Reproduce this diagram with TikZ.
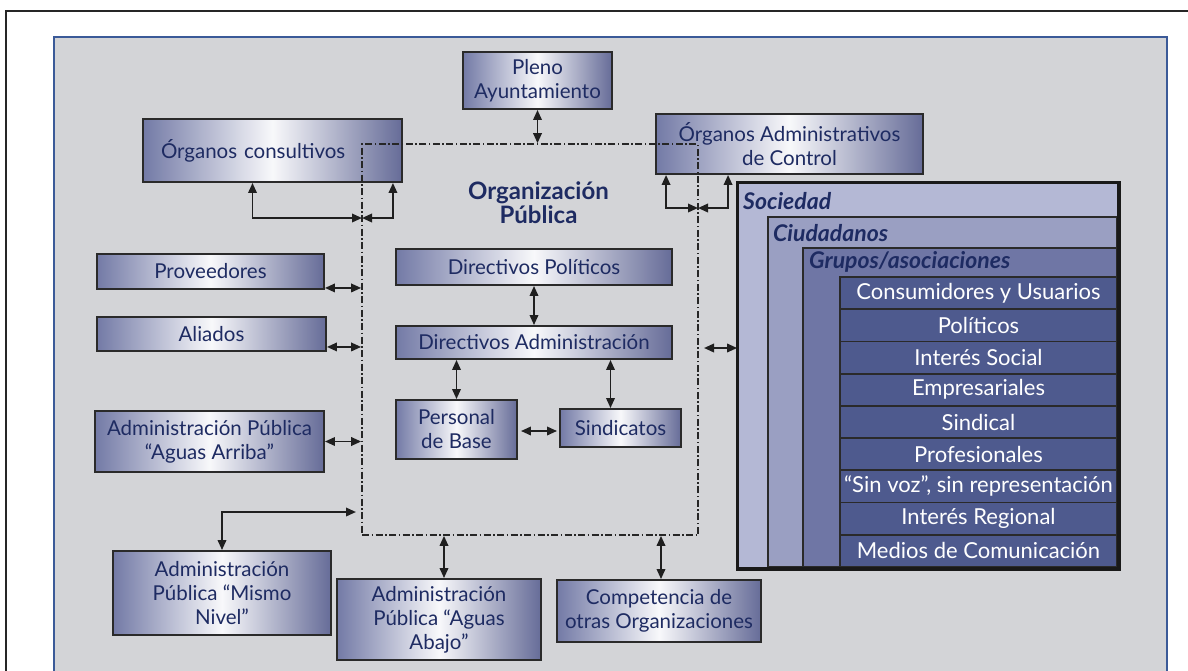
\documentclass[tikz,border=0pt]{standalone}
\usepackage{fontspec}
\setmainfont{Lato}
\usetikzlibrary{arrows.meta}

\definecolor{panelfill}{HTML}{D3D4D7}
\definecolor{panelline}{HTML}{3B5A98}
\definecolor{boxedgeL}{HTML}{737AA6}
\definecolor{boxedgeR}{HTML}{666C98}
\definecolor{boxline}{HTML}{2A2A2A}
\definecolor{navy}{HTML}{1E2B62}
\definecolor{socfill}{HTML}{B4B8D5}
\definecolor{ciufill}{HTML}{9A9FC2}
\definecolor{grpfill}{HTML}{6F76A5}
\definecolor{rowfill}{HTML}{4E5A8E}

\tikzset{
  gbox/.style={draw=boxline, line width=1.9pt, left color=boxedgeL,
    right color=boxedgeR, middle color=white!95!boxedgeL, text=navy,
    align=center, inner sep=0pt, font=\fontsize{20.5}{24}\selectfont},
  orgline/.style={draw=black!85, line width=1.7pt,
    dash pattern=on 7pt off 2.5pt on 1.5pt off 2.5pt},
  link/.style={line width=1.9pt, draw=black!88,
    {Triangle[length=10pt,width=8.5pt]}-{Triangle[length=10pt,width=8.5pt]}},
  layer/.style={draw=boxline, line width=1.8pt, inner sep=0pt},
  headtxt/.style={anchor=west, text=navy, inner sep=0pt,
    font=\fontsize{23}{26}\selectfont\bfseries\itshape},
  rowtxt/.style={text=white, font=\fontsize{22}{24}\selectfont},
}

\begin{document}
\begin{tikzpicture}[x=1pt,y=-1pt]
\useasboundingbox (0,0) rectangle (1188,670);
\clip (0,0) rectangle (1188,670);

% page frame and grey panel
\draw[line width=1.8pt, black!85] (6,700) -- (6,11) -- (1200,11);
\draw[fill=panelfill, draw=panelline, line width=2pt] (54,37) rectangle (1167,690);

% outside actors
\node[gbox, minimum width=149pt, minimum height=57pt] (pleno) at (537.5,80.5) {Pleno\\Ayuntamiento};
\node[gbox, text width=223pt, inner xsep=18pt, minimum height=63pt, align=left] (consult) at (272.5,150.5) {Órganos consultivos};
\node[gbox, minimum width=267pt, minimum height=60pt] (admctl) at (789.5,144) {Órganos Administrativos\\de Control};
\node[gbox, minimum width=227pt, minimum height=35pt] (prov) at (210.5,271.5) {Proveedores};
\node[gbox, minimum width=229pt, minimum height=34pt] (aliados) at (211.5,334) {Aliados};
\node[gbox, minimum width=229pt, minimum height=61pt] (arriba) at (209.5,441.5) {Administración Pública\\“Aguas Arriba”};
\node[gbox, minimum width=218pt, minimum height=84pt] (mismo) at (222,593) {Administración\\Pública “Mismo\\Nivel”};
\node[gbox, minimum width=204pt, minimum height=81pt] (abajo) at (439,619.5) {Administración\\Pública “Aguas\\Abajo”};
\node[gbox, minimum width=204pt, minimum height=62pt] (compet) at (659,611) {Competencia de\\otras Organizaciones};

% inside the organisation
\node[gbox, minimum width=276pt, minimum height=36pt] (dirpol) at (534,267) {Directivos Políticos};
\node[gbox, minimum width=276pt, minimum height=33pt] (diradm) at (534,342.5) {Directivos Administración};
\node[gbox, minimum width=121pt, minimum height=59pt] (personal) at (456.5,429.5) {Personal\\de Base};
\node[gbox, minimum width=121pt, minimum height=38pt] (sind) at (620.5,428) {Sindicatos};

% boundary of the public organisation
\node[orgline, minimum width=336pt, minimum height=391pt, inner sep=0pt] (org) at (530,339.5) {};
\node[text=navy, align=center, inner sep=0pt, font=\fontsize{24}{24}\selectfont\bfseries] (orgtitle) at (538.5,203) {Organización\\Pública};

% society block
\node[layer, fill=socfill, minimum width=380pt, minimum height=385pt] (soc) at (928,375.5) {};
\node[layer, fill=ciufill, minimum width=349pt, minimum height=350pt] (ciud) at (942.5,392) {};
\node[layer, fill=grpfill, minimum width=314pt, minimum height=319pt] (grp) at (960,407.5) {};
\node[headtxt] (soclbl) at (743,201) {Sociedad};
\node[headtxt] (ciulbl) at (773,233) {Ciudadanos};
\node[headtxt] (grplbl) at (809,262) {Grupos/asociaciones};
\foreach \t [count=\i] in {Consumidores y Usuarios, Políticos, Interés Social,
    Empresariales, Sindical, Profesionales, {“Sin voz”, sin representación},
    Interés Regional, Medios de Comunicación}
  \node[layer, fill=rowfill, minimum width=277pt, minimum height=32.2pt, rowtxt]
    (r\i) at (978.5,{277+16.1+(\i-1)*32.22}) {\t};
\draw[line width=3.2pt, black!90] (soc.north west) rectangle (soc.south east);

% connectors
\draw[link] (pleno.south) -- (pleno.south |- org.north);
\coordinate (cj) at (362,218);
\draw[link] ([xshift=-20pt]consult.south) |- (cj);
\draw[link] ([xshift=-10pt]consult.south east) |- (cj);
\coordinate (aj) at (698,208);
\draw[link] ([xshift=11pt]admctl.south west) |- (aj);
\draw[link] ([xshift=73pt]admctl.south west) |- (aj);

\path ([yshift=2pt]prov.south east) coordinate (p1);
\draw[link] (p1) -- (p1 -| org.west);
\path ([yshift=5pt]aliados.south east) coordinate (p2);
\draw[link] (p2) -- (p2 -| org.west);
\draw[link] (arriba.east) -- (arriba.east -| org.west);
\coordinate (mj) at (362,512);
\draw[link, shorten >=6pt] (mismo.north) |- (mj);
\path ([xshift=5pt]abajo.north) coordinate (p3);
\draw[link] (p3) -- (p3 |- org.south);
\draw[link] ([xshift=2pt]compet.north) -- ([xshift=2pt]compet.north |- org.south);
\coordinate (sj) at (698,348);
\draw[link, shorten <=6pt] (sj) -- (sj -| soc.west);

\draw[link] (dirpol.south) -- (diradm.north);
\draw[link] (personal.north) -- (personal.north |- diradm.south);
\path ([xshift=-10pt]sind.north) coordinate (p4);
\draw[link] (p4) -- (p4 |- diradm.south);
\path ([yshift=-1.5pt]personal.east) coordinate (p5);
\draw[link, shorten <=3pt, shorten >=2pt] (p5) -- (p5 -| sind.west);
\end{tikzpicture}
\end{document}
